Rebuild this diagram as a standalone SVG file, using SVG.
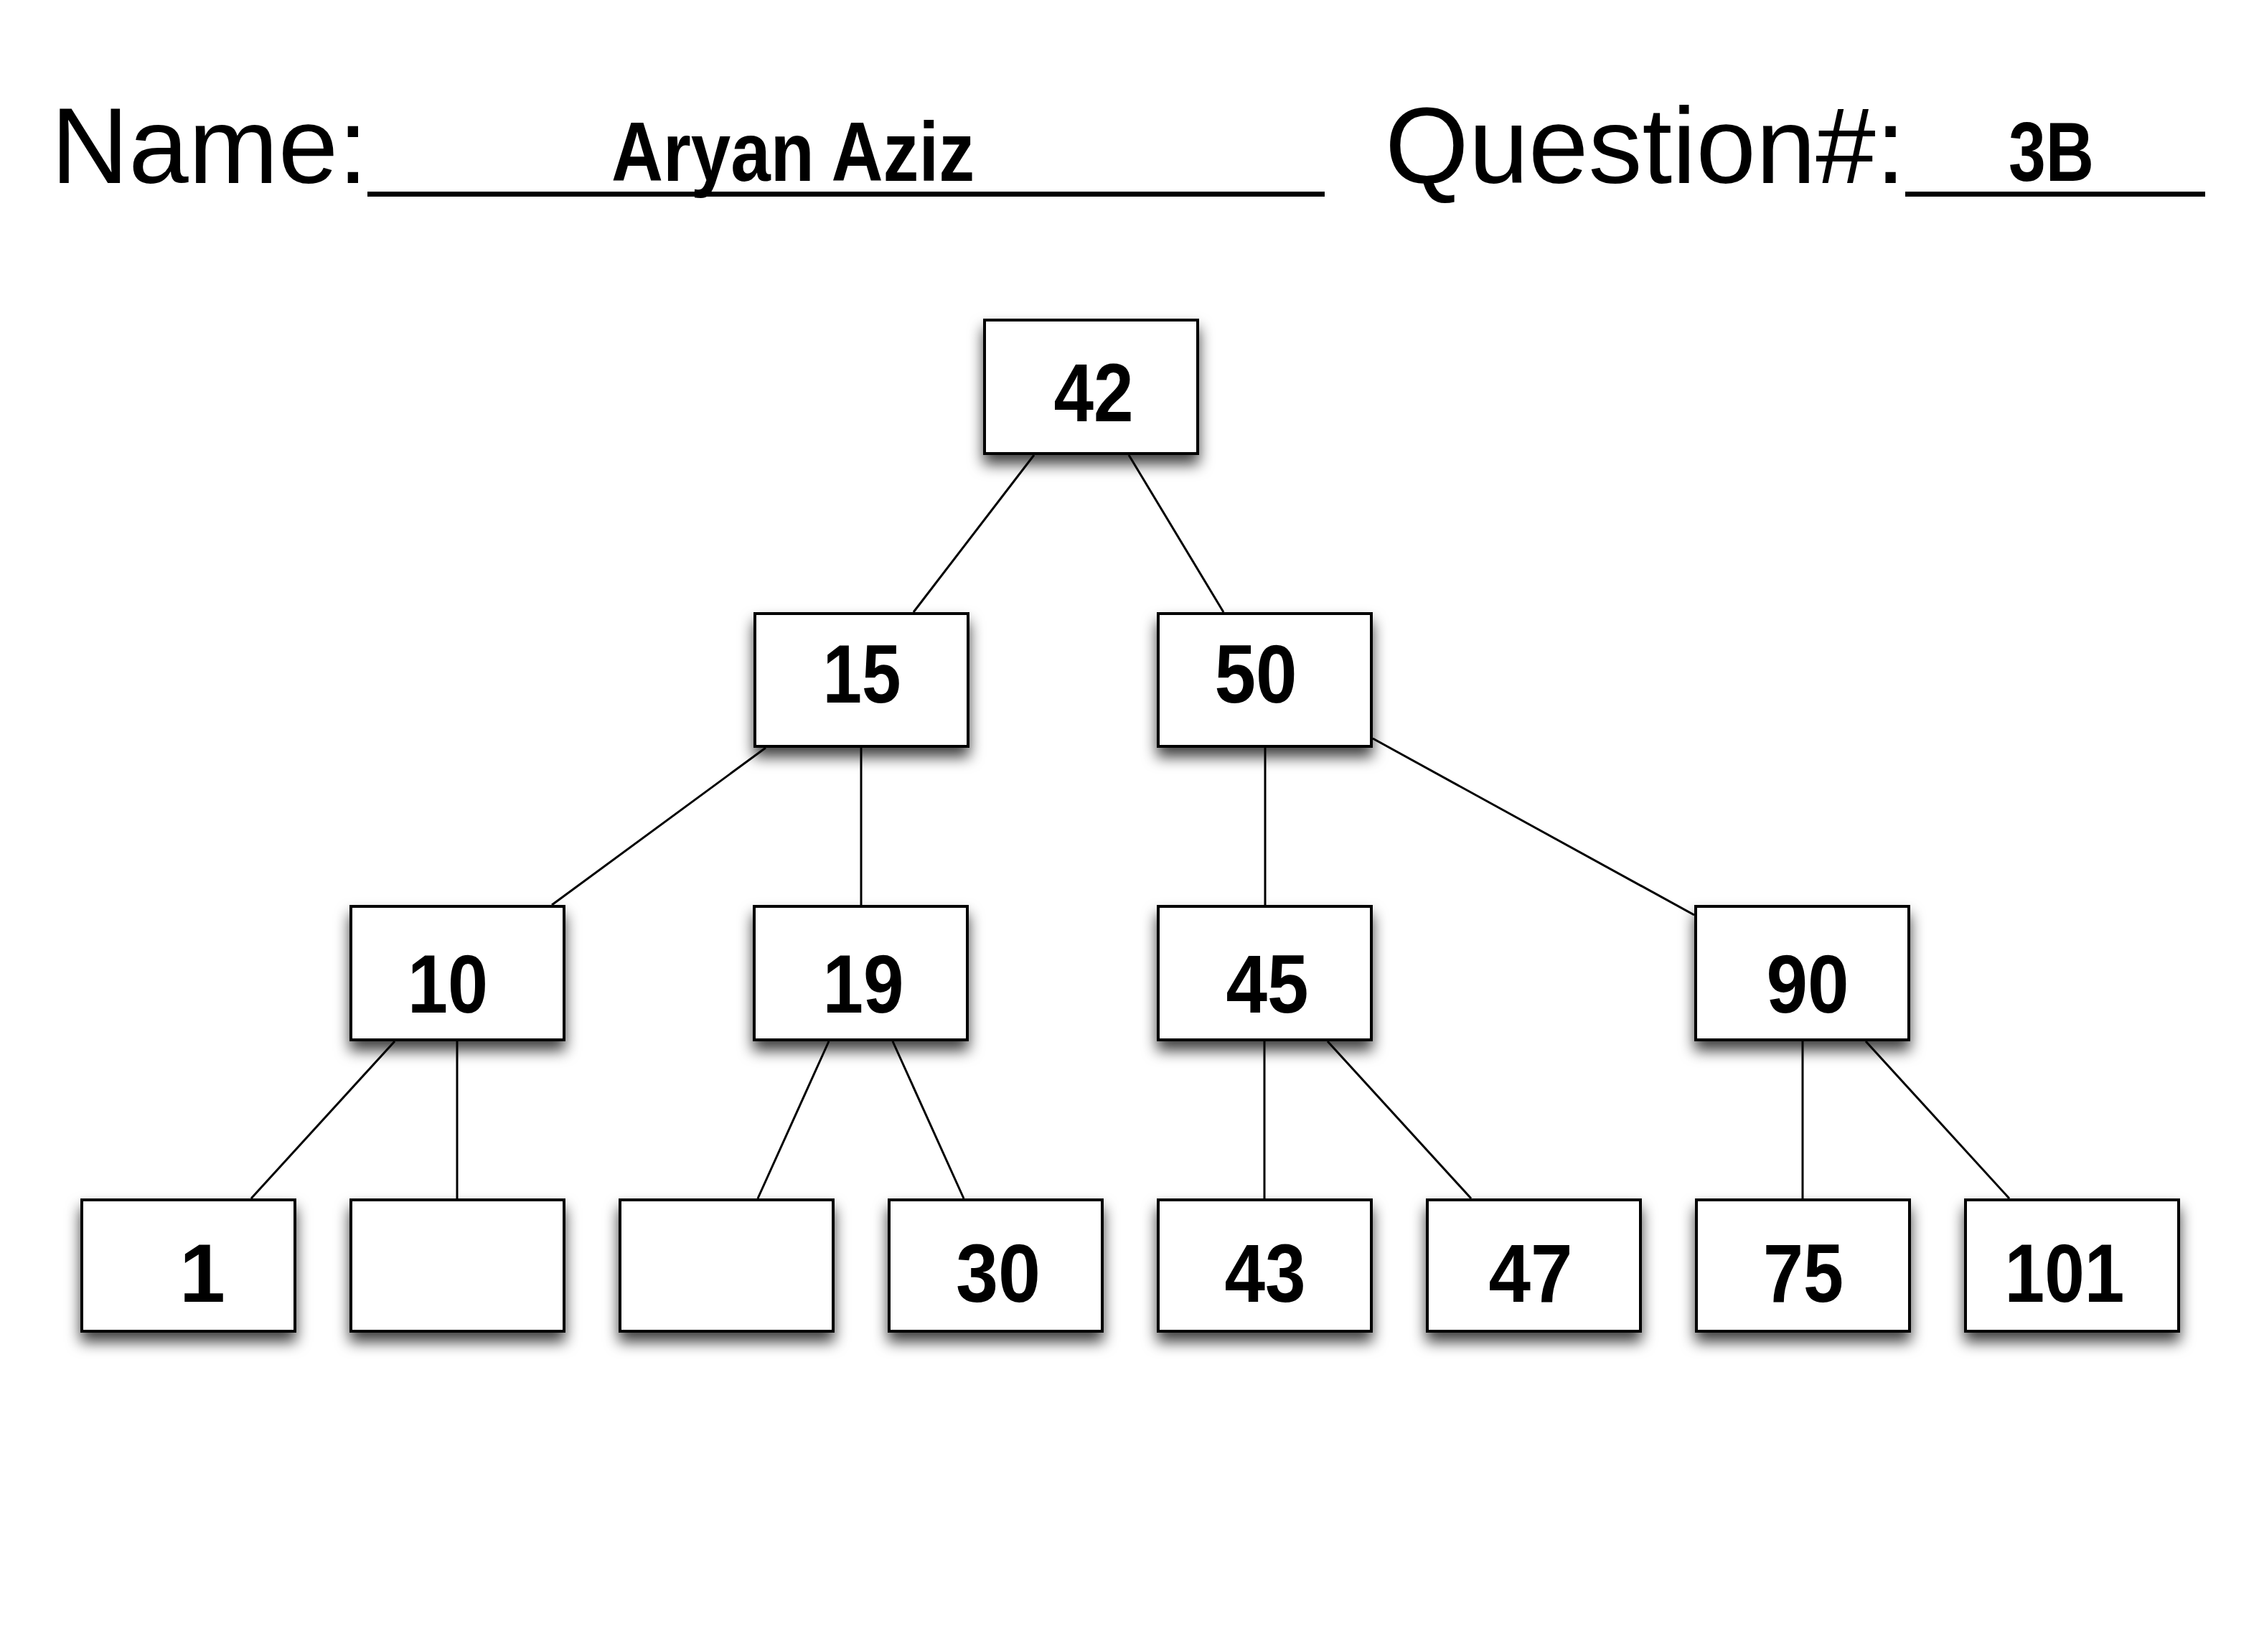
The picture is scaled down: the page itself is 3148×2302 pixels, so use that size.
<svg xmlns="http://www.w3.org/2000/svg" width="3148" height="2302" viewBox="0 0 3148 2302">
<defs>
<filter id="sh" x="-25%" y="-25%" width="150%" height="170%">
<feDropShadow dx="0" dy="13" stdDeviation="10" flood-color="#000" flood-opacity="0.75"/>
</filter>
<style>
.box{fill:#fff;stroke:#000;stroke-width:4;filter:url(#sh)}
.lbl{font-family:"Liberation Sans Narrow","Liberation Sans",Arial,sans-serif;font-weight:bold;font-size:115px;fill:#000;text-anchor:middle}
.hdr{font-family:"Liberation Sans",Arial,sans-serif;font-size:150px;fill:#000}
.hand{font-family:"Liberation Sans Narrow","Liberation Sans",Arial,sans-serif;font-weight:bold;font-size:117px;fill:#000}
.edge{stroke:#000;stroke-width:3;fill:none}
</style>
</defs>
<rect width="3148" height="2302" fill="#fff"/>
<g id="header">
<text class="hdr" x="71" y="255">Name:</text>
<rect x="512" y="267" width="1334" height="7" fill="#000"/>
<text class="hand" x="852" y="252" textLength="506" lengthAdjust="spacingAndGlyphs">Aryan Aziz</text>
<text class="hdr" x="1930" y="255">Question#:</text>
<rect x="2655" y="267" width="418" height="7" fill="#000"/>
<text class="hand" x="2799" y="252" textLength="119" lengthAdjust="spacingAndGlyphs">3B</text>
</g>
<g id="n42"><rect class="box" x="1372" y="446" width="297" height="186"/><text class="lbl" x="1524" y="587" textLength="111" lengthAdjust="spacingAndGlyphs">42</text></g>
<g id="n15"><rect class="box" x="1052" y="855" width="297" height="185"/><text class="lbl" x="1201" y="979" textLength="109" lengthAdjust="spacingAndGlyphs">15</text></g>
<g id="n50"><rect class="box" x="1614" y="855" width="297" height="185"/><text class="lbl" x="1750" y="979" textLength="115" lengthAdjust="spacingAndGlyphs">50</text></g>
<g id="n10"><rect class="box" x="489" y="1263" width="297" height="186"/><text class="lbl" x="624" y="1411" textLength="112" lengthAdjust="spacingAndGlyphs">10</text></g>
<g id="n19"><rect class="box" x="1051" y="1263" width="297" height="186"/><text class="lbl" x="1203" y="1411" textLength="113" lengthAdjust="spacingAndGlyphs">19</text></g>
<g id="n45"><rect class="box" x="1614" y="1263" width="297" height="186"/><text class="lbl" x="1766" y="1411" textLength="115" lengthAdjust="spacingAndGlyphs">45</text></g>
<g id="n90"><rect class="box" x="2363" y="1263" width="297" height="186"/><text class="lbl" x="2519" y="1411" textLength="115" lengthAdjust="spacingAndGlyphs">90</text></g>
<g id="n1"><rect class="box" x="114" y="1672" width="297" height="183"/><text class="lbl" x="282" y="1814">1</text></g>
<g id="e1"><rect class="box" x="489" y="1672" width="297" height="183"/></g>
<g id="e2"><rect class="box" x="864" y="1672" width="297" height="183"/></g>
<g id="n30"><rect class="box" x="1239" y="1672" width="297" height="183"/><text class="lbl" x="1391" y="1814" textLength="118" lengthAdjust="spacingAndGlyphs">30</text></g>
<g id="n43"><rect class="box" x="1614" y="1672" width="297" height="183"/><text class="lbl" x="1763" y="1814" textLength="113" lengthAdjust="spacingAndGlyphs">43</text></g>
<g id="n47"><rect class="box" x="1989" y="1672" width="297" height="183"/><text class="lbl" x="2133" y="1814" textLength="117" lengthAdjust="spacingAndGlyphs">47</text></g>
<g id="n75"><rect class="box" x="2364" y="1672" width="297" height="183"/><text class="lbl" x="2513" y="1814" textLength="112" lengthAdjust="spacingAndGlyphs">75</text></g>
<g id="n101"><rect class="box" x="2739" y="1672" width="297" height="183"/><text class="lbl" x="2877" y="1814" textLength="167" lengthAdjust="spacingAndGlyphs">101</text></g>
<g id="connectors">
<line class="edge" x1="1441" y1="634" x2="1273" y2="853"/>
<line class="edge" x1="1573" y1="634" x2="1705" y2="853"/>
<line class="edge" x1="1067" y1="1042" x2="769" y2="1261"/>
<line class="edge" x1="1200" y1="1042" x2="1200" y2="1261"/>
<line class="edge" x1="1763" y1="1042" x2="1763" y2="1261"/>
<line class="edge" x1="1913" y1="1029" x2="2361" y2="1275"/>
<line class="edge" x1="550" y1="1451" x2="350" y2="1670"/>
<line class="edge" x1="637" y1="1451" x2="637" y2="1670"/>
<line class="edge" x1="1155" y1="1451" x2="1056" y2="1670"/>
<line class="edge" x1="1244" y1="1451" x2="1343" y2="1670"/>
<line class="edge" x1="1762" y1="1451" x2="1762" y2="1670"/>
<line class="edge" x1="1850" y1="1451" x2="2050" y2="1670"/>
<line class="edge" x1="2512" y1="1451" x2="2512" y2="1670"/>
<line class="edge" x1="2600" y1="1451" x2="2800" y2="1670"/>
</g>
</svg>
